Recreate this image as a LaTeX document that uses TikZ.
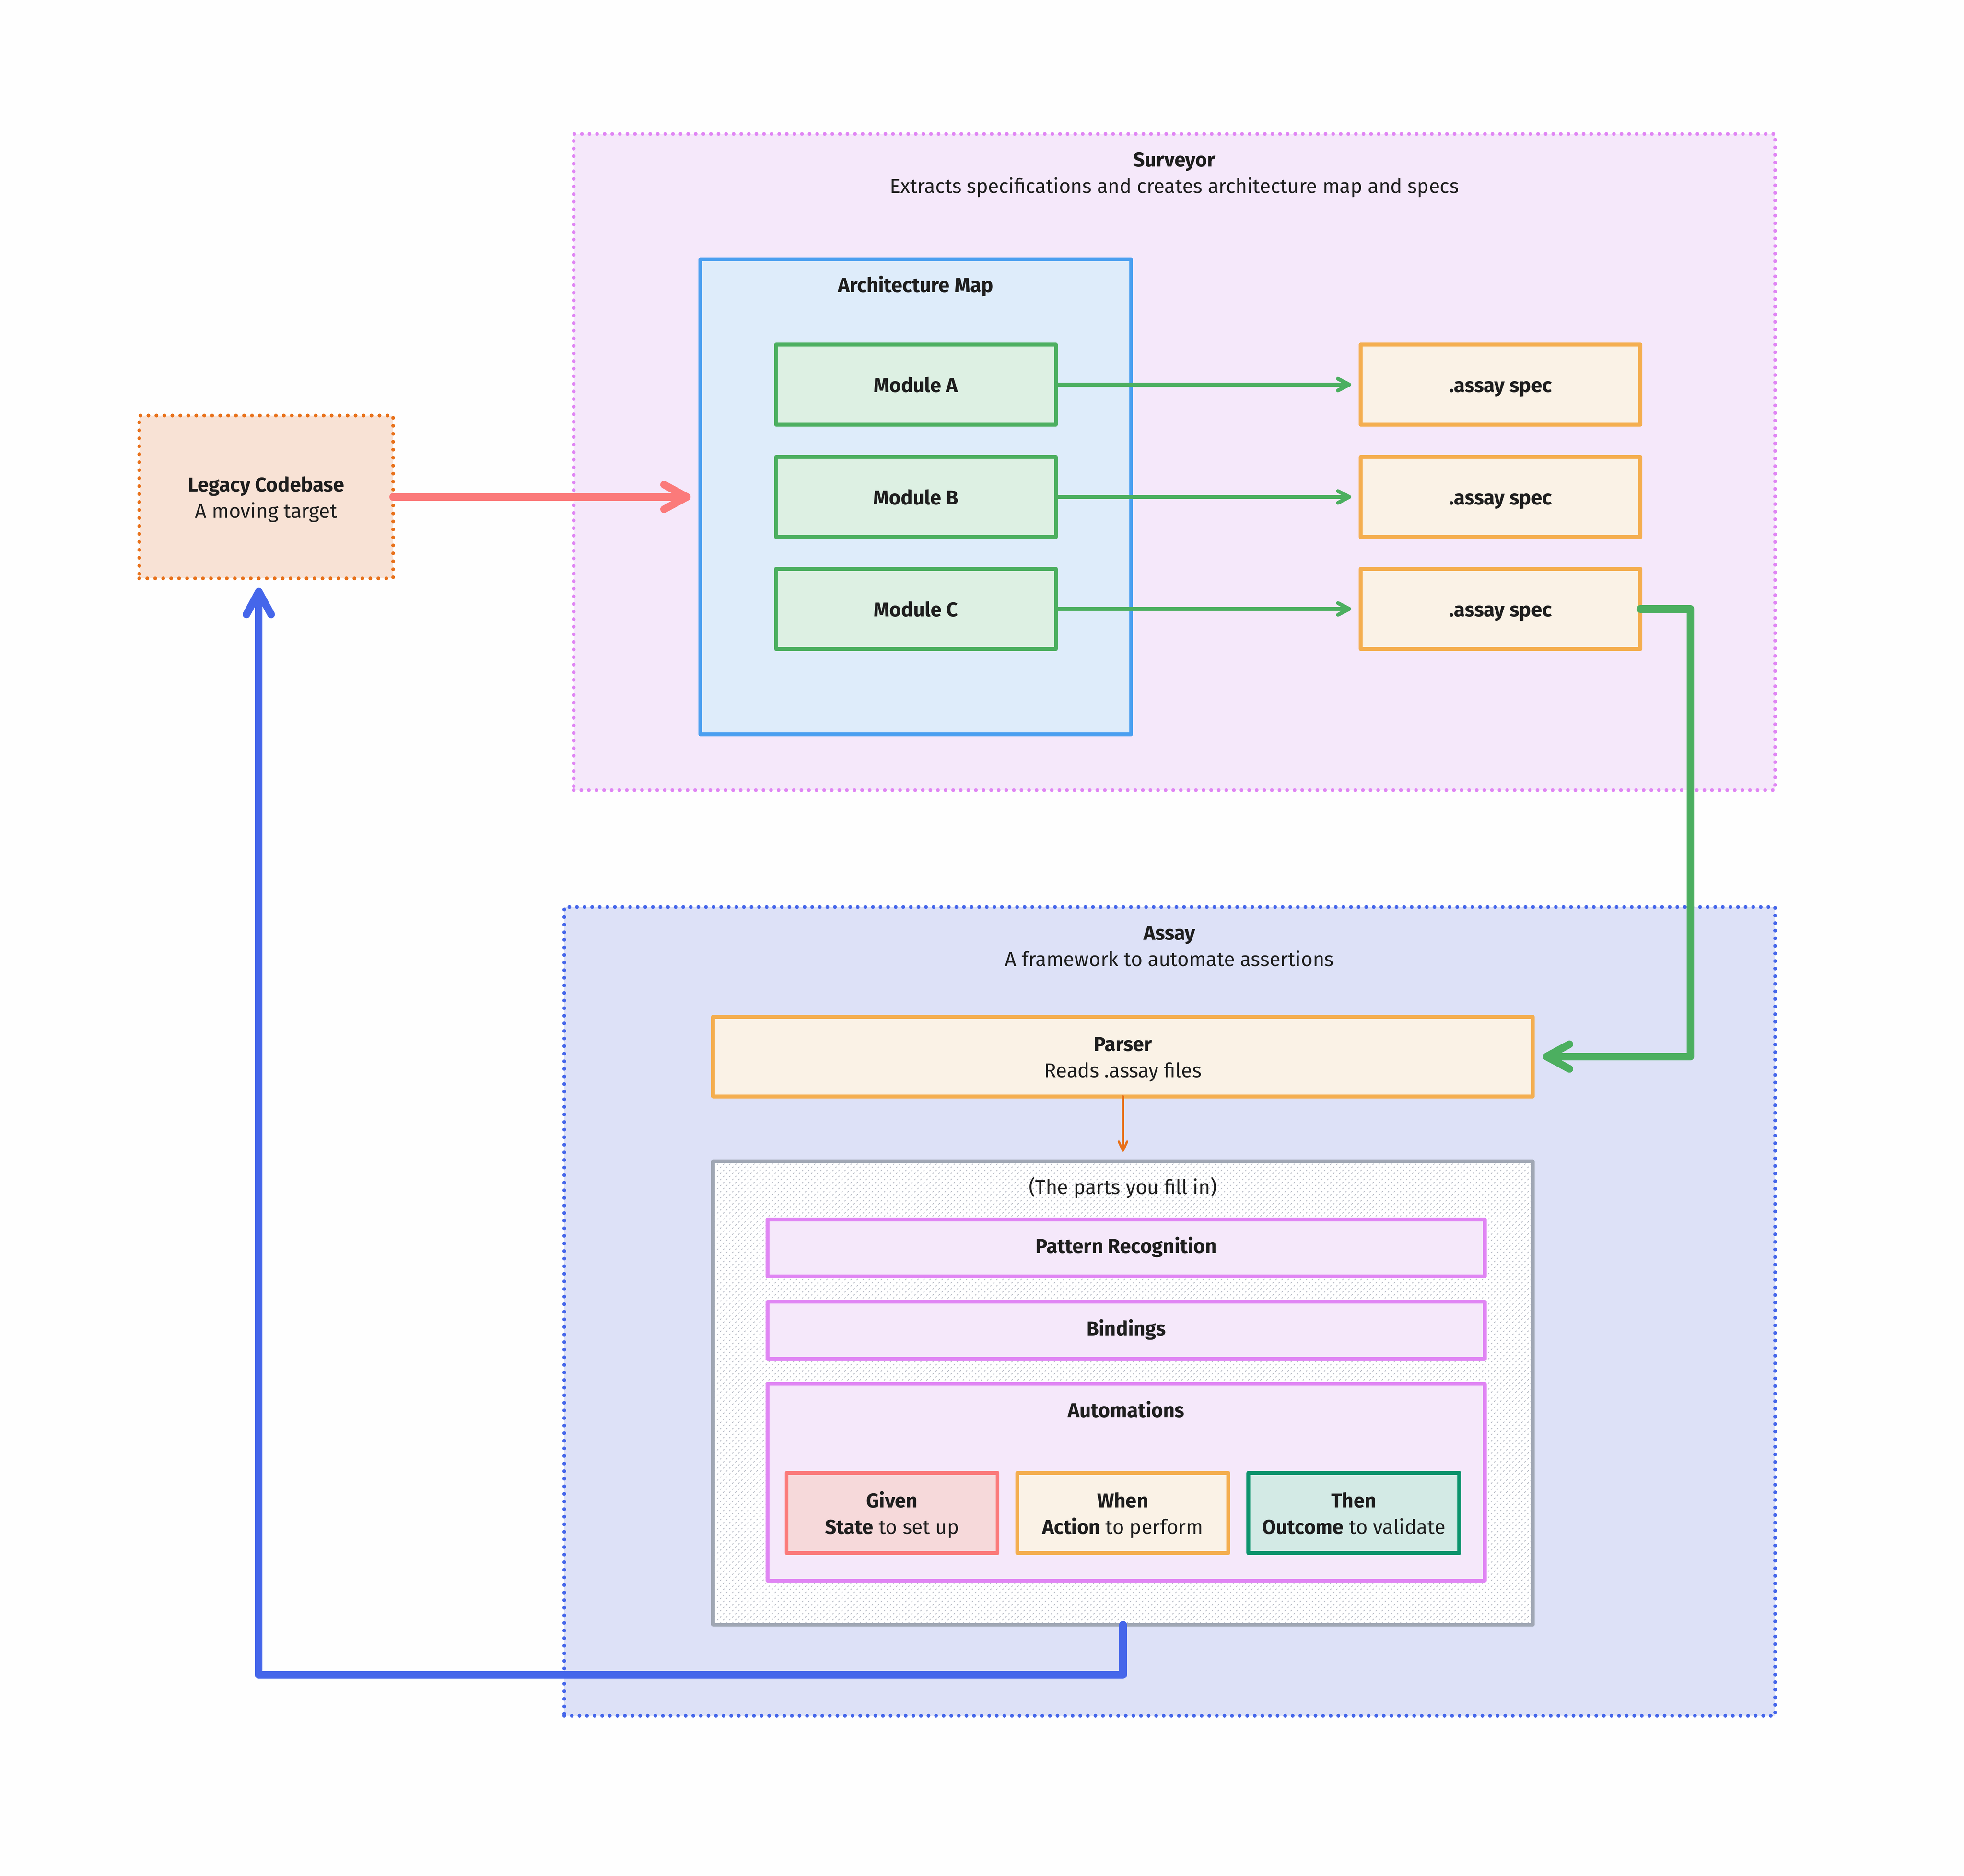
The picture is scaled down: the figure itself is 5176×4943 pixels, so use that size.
\documentclass[tikz,border=0pt]{standalone}
\usepackage{fontspec}
\setmainfont{Fira Sans}
\usetikzlibrary{arrows.meta,patterns}
\definecolor{pagebg}{HTML}{FEFEFE}
\definecolor{ink}{HTML}{1E1E1E}
\definecolor{pinkline}{HTML}{E085F4}
\definecolor{pinkfill}{HTML}{F5E8FA}
\definecolor{blueline}{HTML}{4A9FF0}
\definecolor{bluefill}{HTML}{DEECFA}
\definecolor{greenline}{HTML}{4CAF60}
\definecolor{greenfill}{HTML}{DDF0E3}
\definecolor{amberline}{HTML}{F4AE4F}
\definecolor{amberfill}{HTML}{FAF2E6}
\definecolor{rustline}{HTML}{E8711A}
\definecolor{rustfill}{HTML}{F8E2D5}
\definecolor{coral}{HTML}{FB7A7A}
\definecolor{coralfill}{HTML}{F6D9DA}
\definecolor{royal}{HTML}{4566EA}
\definecolor{royalfill}{HTML}{DDE1F7}
\definecolor{greyline}{HTML}{A0A7B4}
\definecolor{streakgrey}{HTML}{B8BCC6}
\definecolor{tealline}{HTML}{0B936C}
\definecolor{tealfill}{HTML}{D3EAE5}
\pgfdeclarepatternformonly{streaks}{\pgfqpoint{-0.1pt}{-0.1pt}}{\pgfqpoint{1.7pt}{1.7pt}}{\pgfqpoint{1.6pt}{1.6pt}}{%
  \pgfsetlinewidth{0.2pt}\pgfsetroundcap
  \pgfpathmoveto{\pgfqpoint{0.2pt}{0.2pt}}\pgfpathlineto{\pgfqpoint{0.45pt}{0.45pt}}
  \pgfpathmoveto{\pgfqpoint{1.0pt}{1.0pt}}\pgfpathlineto{\pgfqpoint{1.25pt}{1.25pt}}
  \pgfusepath{stroke}}
\newcommand{\bx}[7]{%
  \pgfmathsetmacro\bxcx{(#3+#5)/2}\pgfmathsetmacro\bxcy{(#4+#6)/2}%
  \pgfmathsetmacro\bxw{(#5-#3)*0.1}\pgfmathsetmacro\bxh{(#6-#4)*0.1}%
  \node[box,#2,minimum width=\bxw pt,minimum height=\bxh pt] (#1) at (\bxcx,\bxcy) {#7};}
% first-line strut: sets the text a little lower in its box, as the reference does
\newcommand{\lowstrut}{\vrule height \dimexpr0.7\baselineskip+1.3pt\relax depth 0.3\baselineskip width 0pt\relax}
\tikzset{
  box/.style={rectangle,draw,inner sep=0pt,outer sep=0pt,line width=1pt,line join=round,
    align=center,text=ink,font=\fontsize{5.28}{6.93}\selectfont},
  dotbox/.style={line width=1pt,line cap=round,dash pattern=on 0pt off 2pt},
  surveyorbox/.style={dotbox,draw=pinkline,fill=pinkfill},
  assaybox/.style={dotbox,draw=royal,fill=royalfill},
  legacybox/.style={dotbox,dash pattern=on 0pt off 2.1pt,draw=rustline,fill=rustfill},
  mapbox/.style={draw=blueline,fill=bluefill},
  modbox/.style={draw=greenline,fill=greenfill},
  specbox/.style={draw=amberline,fill=amberfill},
  partsbox/.style={draw=greyline,fill=white},
  pinkbox/.style={draw=pinkline,fill=pinkfill},
  givenbox/.style={draw=coral,fill=coralfill},
  thenbox/.style={draw=tealline,fill=tealfill},
  lbl/.style={inner sep=0pt,align=center,text=ink,font=\fontsize{5.28}{6.93}\selectfont},
  bigarrow/.style={line width=2pt,line cap=round,line join=round,
    -{Straight Barb[round,length=6pt,width=6.5pt]}},
  thinarrow/.style={draw=greenline,line width=1pt,line cap=round,
    -{Straight Barb[round,length=3pt,width=3.1pt]}},
  tinyarrow/.style={draw=rustline,line width=0.6pt,line cap=round,
    -{Straight Barb[round,length=2.4pt,width=2.2pt]}},
}
\begin{document}
\begin{tikzpicture}[x=0.1pt,y=-0.1pt]
\fill[pagebg] (0,0) rectangle (5176,4943);
\useasboundingbox (0,0) rectangle (5176,4943);
% containers
\bx{surveyor}{surveyorbox}{1512}{353}{4678}{2082}{}
\bx{assay}{assaybox}{1487}{2390}{4678}{4521}{}
\bx{legacy}{legacybox}{367}{1095}{1036}{1524}{\lowstrut\textbf{Legacy Codebase}\\\strut A moving target}
\node[lbl] (surveyorlbl) at (3095,454) {\lowstrut\textbf{Surveyor}\\\strut Extracts specifications and creates architecture map and specs};
\node[lbl] (assaylbl) at (3082,2491) {\lowstrut\textbf{Assay}\\\strut A framework to automate assertions};
% architecture map
\bx{map}{mapbox}{1846}{683}{2981}{1935}{}
\node[lbl] (maplbl) at (2413,749) {\lowstrut\textbf{Architecture Map}};
\bx{moda}{modbox}{2045}{908}{2783}{1119}{\lowstrut\textbf{Module A}}
\bx{modb}{modbox}{2045}{1204}{2783}{1415}{\lowstrut\textbf{Module B}}
\bx{modc}{modbox}{2045}{1499}{2783}{1710}{\lowstrut\textbf{Module C}}
\bx{speca}{specbox}{3586}{908}{4323}{1119}{\lowstrut\textbf{.assay spec}}
\bx{specb}{specbox}{3586}{1204}{4323}{1415}{\lowstrut\textbf{.assay spec}}
\bx{specc}{specbox}{3586}{1499}{4323}{1710}{\lowstrut\textbf{.assay spec}}
% assay
\bx{parser}{specbox}{1879}{2679}{4040}{2889}{\lowstrut\textbf{Parser}\\\strut Reads .assay files}
\bx{parts}{partsbox}{1879}{3060}{4040}{4281}{}
\fill[pattern=streaks,pattern color=streakgrey] ([xshift=0.5pt,yshift=-0.5pt]parts.north west) rectangle ([xshift=-0.5pt,yshift=0.5pt]parts.south east);
\node[lbl] (partslbl) at (2959,3126) {\lowstrut (The parts you fill in)};
\bx{pattern}{pinkbox}{2023}{3213}{3913}{3363}{\strut\textbf{Pattern Recognition}}
\bx{bindings}{pinkbox}{2023}{3430}{3913}{3581}{\strut\textbf{Bindings}}
\bx{automations}{pinkbox}{2023}{3646}{3913}{4165}{}
\node[lbl] (autolbl) at (2968,3714) {\lowstrut\textbf{Automations}};
\bx{given}{givenbox}{2073}{3881}{2629}{4092}{\lowstrut\textbf{Given}\\\strut\textbf{State} to set up}
\bx{when}{specbox}{2681}{3881}{3237}{4092}{\lowstrut\textbf{When}\\\strut\textbf{Action} to perform}
\bx{then}{thenbox}{3290}{3881}{3846}{4092}{\lowstrut\textbf{Then}\\\strut\textbf{Outcome} to validate}
% connectors
\coordinate (greenbend) at (4455,2784);
\coordinate (bluebend) at (682,4413);
\coordinate (bluetip) at (682,1549);
\draw[thinarrow,shorten >=2.5pt] (moda.east) -- (speca.west);
\draw[thinarrow,shorten >=2.5pt] (modb.east) -- (specb.west);
\draw[thinarrow,shorten >=2.5pt] (modc.east) -- (specc.west);
\draw[tinyarrow,shorten >=2.5pt] (parser.south) -- (parts.north);
\draw[bigarrow,draw=coral,shorten >=2.6pt] (legacy.east) -- (legacy.east -| map.west);
\draw[bigarrow,draw=greenline,shorten >=2.6pt] (specc.east) -| (greenbend) -- (parser.east);
\draw[bigarrow,draw=royal] (parts.south) |- (bluebend) -- (bluetip);
\end{tikzpicture}
\end{document}
